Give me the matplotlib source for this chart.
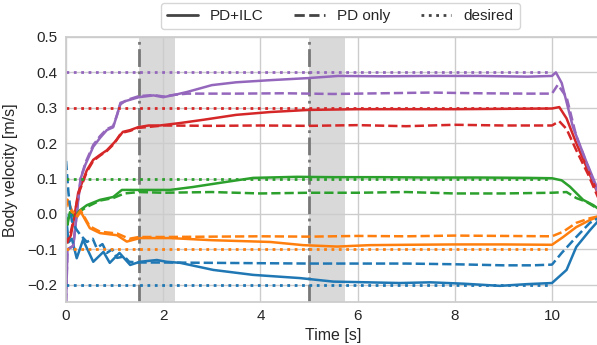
import numpy as np
import matplotlib
matplotlib.use("Agg")
import matplotlib.pyplot as plt
import seaborn as sns
from matplotlib.lines import Line2D

# --- data ---
colors = ["#9467bd", "#d62728", "#2ca02c", "#ff7f0e", "#1f77b4"]
desired = [0.4, 0.3, 0.1, -0.1, -0.2]
t_desired_end = 10.0

# PD+ILC (solid)
t_ilc_p = [0, 0.03, 0.15, 0.22, 0.3, 0.4, 0.56, 0.7, 0.84, 0.97, 1.05, 1.12, 1.25, 1.5, 1.8, 2.0, 2.25,
           2.5, 3.0, 3.5, 4.2, 5.0, 5.6, 6.5, 7.5, 8.5, 9.5, 10.0, 10.08, 10.2, 10.43, 10.7, 11.0]
v_ilc_p = [-0.25, -0.10, -0.09, 0.0, 0.10, 0.14, 0.19, 0.215, 0.237, 0.245, 0.28, 0.314, 0.32, 0.33, 0.335,
           0.33, 0.337, 0.345, 0.364, 0.372, 0.378, 0.384, 0.39, 0.389, 0.39, 0.39, 0.388, 0.39, 0.40, 0.37,
           0.246, 0.15, 0.05]
t_ilc_r = [0, 0.03, 0.1, 0.18, 0.25, 0.43, 0.56, 0.7, 0.84, 1.0, 1.1, 1.17, 1.32, 1.48, 1.7, 1.93, 2.35,
           2.82, 3.5, 4.2, 5.0, 6.0, 7.0, 8.0, 9.0, 10.0, 10.15, 10.3, 10.5, 10.75, 11.0]
v_ilc_r = [-0.07, -0.08, -0.06, 0.0, 0.06, 0.124, 0.153, 0.167, 0.18, 0.203, 0.22, 0.232, 0.237, 0.245,
           0.25, 0.25, 0.257, 0.266, 0.28, 0.288, 0.294, 0.296, 0.296, 0.296, 0.297, 0.298, 0.302, 0.27,
           0.2, 0.12, 0.04]
t_ilc_g = [0, 0.03, 0.08, 0.15, 0.29, 0.43, 0.7, 0.97, 1.15, 1.46, 1.93, 2.14, 2.6, 3.17, 3.85, 4.75, 5.5,
           6.5, 7.5, 8.5, 9.5, 10.0, 10.2, 10.37, 10.64, 10.85, 11.0]
v_ilc_g = [-0.01, -0.03, 0.005, -0.003, 0.011, 0.025, 0.04, 0.048, 0.068, 0.068, 0.068, 0.068, 0.076,
           0.088, 0.102, 0.105, 0.104, 0.104, 0.103, 0.103, 0.102, 0.101, 0.095, 0.077, 0.04, 0.025, 0.01]
t_ilc_o = [0, 0.03, 0.12, 0.22, 0.3, 0.49, 0.7, 1.05, 1.25, 1.52, 2.14, 3.0, 4.2, 4.88, 5.58, 6.25, 7.0,
           8.0, 9.0, 10.0, 10.23, 10.5, 10.78, 11.0]
v_ilc_o = [0.02, 0.04, 0.006, -0.01, 0.007, -0.04, -0.054, -0.06, -0.078, -0.068, -0.068, -0.074, -0.079,
           -0.088, -0.092, -0.088, -0.087, -0.086, -0.086, -0.087, -0.065, -0.037, -0.017, -0.005]
t_ilc_b = [0, 0.05, 0.12, 0.22, 0.35, 0.56, 0.77, 0.9, 1.1, 1.32, 1.52, 1.87, 2.07, 2.35, 3.03, 3.85,
           4.81, 5.5, 6.2, 6.87, 7.5, 8.2, 8.93, 9.5, 10.0, 10.3, 10.5, 10.78, 11.0]
v_ilc_b = [0.0, -0.08, -0.07, -0.125, -0.073, -0.135, -0.107, -0.138, -0.11, -0.144, -0.135, -0.13,
           -0.135, -0.138, -0.158, -0.172, -0.181, -0.191, -0.193, -0.195, -0.193, -0.197, -0.203, -0.198,
           -0.195, -0.158, -0.093, -0.046, -0.012]

# PD only (dashed)
t_pd_p = [0, 0.03, 0.15, 0.22, 0.3, 0.4, 0.56, 0.7, 0.84, 0.97, 1.05, 1.12, 1.25, 1.5, 1.8, 2.0, 2.25,
          2.5, 3.5, 4.5, 5.5, 6.5, 7.5, 8.5, 9.5, 10.0, 10.12, 10.3, 10.5, 10.75, 11.0]
v_pd_p = [-0.25, -0.10, -0.09, 0.0, 0.10, 0.145, 0.195, 0.22, 0.24, 0.248, 0.28, 0.31, 0.322, 0.333,
          0.336, 0.332, 0.337, 0.34, 0.34, 0.341, 0.339, 0.341, 0.343, 0.341, 0.34, 0.34, 0.365, 0.33,
          0.22, 0.13, 0.04]
t_pd_r = [0, 0.03, 0.1, 0.18, 0.25, 0.43, 0.56, 0.7, 0.84, 1.0, 1.1, 1.17, 1.32, 1.48, 2.0, 3.0, 4.0,
          5.0, 6.0, 7.0, 8.0, 9.0, 10.0, 10.15, 10.3, 10.5, 10.75, 11.0]
v_pd_r = [-0.07, -0.08, -0.05, 0.0, 0.055, 0.12, 0.15, 0.165, 0.178, 0.2, 0.222, 0.23, 0.235, 0.243, 0.25,
          0.249, 0.25, 0.249, 0.251, 0.248, 0.252, 0.25, 0.25, 0.262, 0.24, 0.18, 0.11, 0.03]
t_pd_g = [0, 0.03, 0.08, 0.15, 0.29, 0.43, 0.7, 0.97, 1.2, 1.5, 2.0, 3.0, 4.0, 5.0, 6.0, 7.0, 8.0, 9.0,
          10.0, 10.3, 10.5, 10.7, 11.0]
v_pd_g = [-0.01, -0.03, 0.0, -0.005, 0.008, 0.02, 0.038, 0.045, 0.058, 0.062, 0.06, 0.062, 0.058, 0.06,
          0.06, 0.062, 0.058, 0.058, 0.06, 0.062, 0.045, 0.035, 0.01]
t_pd_o = [0, 0.03, 0.12, 0.22, 0.3, 0.49, 0.7, 1.05, 1.3, 1.5, 2.0, 3.0, 4.0, 5.0, 6.0, 7.0, 8.0, 9.0,
          10.0, 10.23, 10.5, 10.78, 11.0]
v_pd_o = [0.02, 0.04, 0.01, -0.005, 0.01, -0.035, -0.05, -0.055, -0.07, -0.065, -0.065, -0.064, -0.063,
          -0.064, -0.062, -0.063, -0.061, -0.062, -0.063, -0.05, -0.025, -0.012, -0.005]
t_pd_b = [0, 0.05, 0.12, 0.22, 0.3, 0.43, 0.55, 0.63, 0.75, 0.84, 0.95, 1.05, 1.2, 1.3, 1.5, 2.0, 3.0,
          4.0, 5.0, 6.0, 7.0, 8.0, 9.0, 9.6, 10.0, 10.2, 10.5, 10.78, 11.0]
v_pd_b = [0.15, 0.06, -0.02, -0.045, -0.06, -0.079, -0.07, -0.096, -0.085, -0.11, -0.1, -0.124, -0.12,
          -0.135, -0.137, -0.137, -0.138, -0.139, -0.14, -0.14, -0.14, -0.142, -0.145, -0.145, -0.143,
          -0.11, -0.065, -0.025, -0.008]

t_ilc = [t_ilc_p, t_ilc_r, t_ilc_g, t_ilc_o, t_ilc_b]
v_ilc = [v_ilc_p, v_ilc_r, v_ilc_g, v_ilc_o, v_ilc_b]
t_pd = [t_pd_p, t_pd_r, t_pd_g, t_pd_o, t_pd_b]
v_pd = [v_pd_p, v_pd_r, v_pd_g, v_pd_o, v_pd_b]

events = [1.5, 5.0]
event_width = 0.75

sns.set_theme(style="whitegrid")
plt.rcParams["font.family"] = ["Liberation Sans", "DejaVu Sans"]

fig = plt.figure(figsize=(5.97, 3.45), dpi=100)
ax = fig.add_axes([0.1106, 0.1232, 0.8954, 0.7696])

for ev in events:
    ax.axvspan(ev, ev + event_width, color="#d9d9d9", zorder=0, lw=0)
    ax.axvline(ev, color="#777777", ls="-.", lw=2, zorder=1.5)

for c, tt, vv in zip(colors, t_ilc, v_ilc):
    ax.plot(tt, vv, color=c, lw=1.8, ls="-")
for c, tt, vv in zip(colors, t_pd, v_pd):
    ax.plot(tt, vv, color=c, lw=1.8, ls="--")
for c, d in zip(colors, desired):
    ax.plot([0, t_desired_end], [d, d], color=c, lw=2, ls=":")

ax.set_xlim(0, 11)
ax.set_ylim(-0.25, 0.5)
ax.set_xticks([0, 2, 4, 6, 8, 10])
ax.set_yticks([-0.2, -0.1, 0.0, 0.1, 0.2, 0.3, 0.4, 0.5])
ax.tick_params(labelsize=11, length=0)
ax.tick_params(axis="x", pad=5)
ax.tick_params(axis="y", pad=6)
ax.set_xlabel("Time [s]", fontsize=11.5, labelpad=3)
ax.set_ylabel("Body velocity [m/s]", fontsize=11.5, labelpad=7)

handles = [Line2D([], [], color="#444444", lw=2, ls="-"),
           Line2D([], [], color="#444444", lw=2, ls="--"),
           Line2D([], [], color="#444444", lw=2, ls=":")]
ax.legend(handles, ["PD+ILC", "PD only", "desired"], ncol=3, loc="lower center",
          bbox_to_anchor=(0.513, 1.0), fontsize=11, frameon=True)

fig.savefig("out.png", dpi=100)
